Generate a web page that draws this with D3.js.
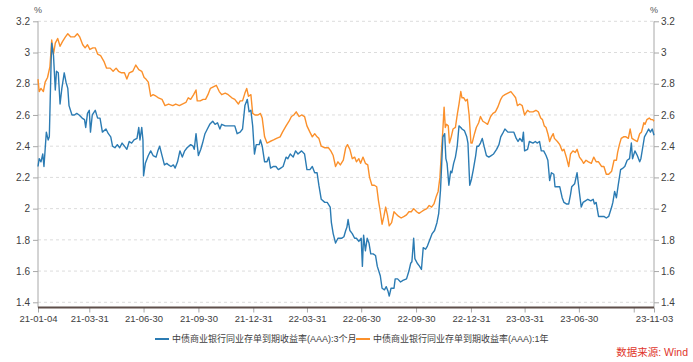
<!DOCTYPE html>
<html>
<head>
<meta charset="utf-8">
<script src="https://cdn.jsdelivr.net/npm/d3@7"></script>
<style>
  body { margin: 0; background: #fff; }
  svg { display: block; }
  text { font-family: "Liberation Sans", "Noto Sans CJK SC", sans-serif; }
</style>
</head>
<body>
<svg id="chart" width="693" height="362"></svg>
<script>
// 3-month NCD yield (AAA)
const dates3m = [
  '2021-01-04','2021-01-06','2021-01-09','2021-01-12','2021-01-14','2021-01-16','2021-01-18','2021-01-21','2021-01-23','2021-01-26',
  '2021-01-27','2021-01-30','2021-02-02','2021-02-04','2021-02-07','2021-02-10','2021-02-13','2021-02-17','2021-02-20','2021-02-23',
  '2021-02-25','2021-03-02','2021-03-06','2021-03-10','2021-03-14','2021-03-19','2021-03-23','2021-03-25','2021-03-28','2021-03-31',
  '2021-04-02','2021-04-05','2021-04-10','2021-04-14','2021-04-18','2021-04-22','2021-04-28','2021-05-02','2021-05-06','2021-05-09',
  '2021-05-13','2021-05-17','2021-05-21','2021-05-25','2021-05-29','2021-06-02','2021-06-06','2021-06-10','2021-06-14','2021-06-19',
  '2021-06-22','2021-06-24','2021-06-27','2021-06-29','2021-06-30','2021-07-03','2021-07-08','2021-07-12','2021-07-16','2021-07-21',
  '2021-07-24','2021-07-27','2021-07-31','2021-08-04','2021-08-08','2021-08-11','2021-08-15','2021-08-19','2021-08-22','2021-08-26',
  '2021-08-30','2021-09-03','2021-09-07','2021-09-11','2021-09-17','2021-09-21','2021-09-23','2021-09-26','2021-09-30','2021-10-04',
  '2021-10-07','2021-10-11','2021-10-15','2021-10-19','2021-10-24','2021-10-28','2021-11-01','2021-11-05','2021-11-08','2021-11-14',
  '2021-11-19','2021-11-25','2021-11-30','2021-12-04','2021-12-09','2021-12-13','2021-12-17','2021-12-21','2021-12-24','2021-12-27',
  '2021-12-30','2022-01-02','2022-01-05','2022-01-10','2022-01-12','2022-01-15','2022-01-19','2022-01-23','2022-01-26','2022-01-29',
  '2022-02-03','2022-02-07','2022-02-11','2022-02-15','2022-02-19','2022-02-24','2022-02-27','2022-03-03','2022-03-08','2022-03-12',
  '2022-03-16','2022-03-22','2022-03-27','2022-03-31','2022-04-05','2022-04-09','2022-04-13','2022-04-17','2022-04-20','2022-04-24',
  '2022-04-30','2022-05-04','2022-05-09','2022-05-11','2022-05-14','2022-05-18','2022-05-22','2022-05-28','2022-06-01','2022-06-04',
  '2022-06-06','2022-06-08','2022-06-11','2022-06-15','2022-06-19','2022-06-22','2022-06-26','2022-06-30','2022-07-02','2022-07-04',
  '2022-07-07','2022-07-10','2022-07-13','2022-07-16','2022-07-20','2022-07-24','2022-07-27','2022-08-01','2022-08-04','2022-08-08',
  '2022-08-11','2022-08-14','2022-08-16','2022-08-19','2022-08-24','2022-08-26','2022-08-30','2022-09-04','2022-09-08','2022-09-14',
  '2022-09-18','2022-09-21','2022-09-23','2022-09-26','2022-09-28','2022-10-02','2022-10-06','2022-10-09','2022-10-12','2022-10-16',
  '2022-10-19','2022-10-23','2022-10-27','2022-10-31','2022-11-04','2022-11-07','2022-11-10','2022-11-12','2022-11-14','2022-11-17',
  '2022-11-19','2022-11-21','2022-11-24','2022-11-27','2022-11-29','2022-12-02','2022-12-05','2022-12-08','2022-12-11','2022-12-14',
  '2022-12-16','2022-12-20','2022-12-24','2022-12-26','2022-12-29','2023-01-01','2023-01-04','2023-01-08','2023-01-10','2023-01-13',
  '2023-01-16','2023-01-19','2023-01-22','2023-01-26','2023-01-30','2023-02-03','2023-02-07','2023-02-12','2023-02-16','2023-02-19',
  '2023-02-22','2023-02-26','2023-03-03','2023-03-09','2023-03-13','2023-03-17','2023-03-20','2023-03-23','2023-03-27','2023-03-29',
  '2023-03-31','2023-04-05','2023-04-08','2023-04-14','2023-04-18','2023-04-21','2023-04-25','2023-04-28','2023-05-02','2023-05-06',
  '2023-05-09','2023-05-12','2023-05-15','2023-05-19','2023-05-21','2023-05-26','2023-05-29','2023-06-02','2023-06-05','2023-06-09',
  '2023-06-13','2023-06-16','2023-06-18','2023-06-23','2023-06-27','2023-07-01','2023-07-04','2023-07-07','2023-07-11','2023-07-15',
  '2023-07-20','2023-07-24','2023-07-26','2023-07-29','2023-08-02','2023-08-07','2023-08-11','2023-08-15','2023-08-19','2023-08-24',
  '2023-08-26','2023-08-29','2023-09-01','2023-09-04','2023-09-08','2023-09-12','2023-09-15','2023-09-19','2023-09-23','2023-09-26',
  '2023-09-28','2023-10-02','2023-10-06','2023-10-10','2023-10-12','2023-10-15','2023-10-18','2023-10-21','2023-10-25','2023-10-28',
  '2023-10-31','2023-11-03'
];
const rate3m = [
  2.27,2.32,2.30,2.35,2.27,2.38,2.49,2.44,2.46,2.94,
  3.06,2.98,2.76,2.88,2.87,2.67,2.77,2.87,2.81,2.77,
  2.66,2.60,2.60,2.61,2.60,2.58,2.57,2.52,2.61,2.63,
  2.49,2.60,2.63,2.58,2.58,2.49,2.51,2.48,2.46,2.40,
  2.39,2.41,2.39,2.42,2.40,2.38,2.43,2.42,2.44,2.45,
  2.52,2.44,2.52,2.44,2.21,2.29,2.34,2.37,2.34,2.33,
  2.37,2.40,2.34,2.28,2.29,2.28,2.27,2.28,2.26,2.30,
  2.37,2.33,2.37,2.39,2.41,2.40,2.38,2.48,2.34,2.38,
  2.42,2.48,2.51,2.54,2.56,2.54,2.55,2.51,2.54,2.53,
  2.53,2.53,2.53,2.48,2.49,2.51,2.66,2.70,2.62,2.63,
  2.53,2.35,2.41,2.41,2.44,2.40,2.30,2.30,2.33,2.26,
  2.27,2.27,2.25,2.26,2.27,2.33,2.32,2.35,2.33,2.37,
  2.35,2.37,2.35,2.25,2.25,2.27,2.23,2.23,2.15,2.06,
  2.04,2.04,2.01,1.91,1.84,1.78,1.81,1.81,1.82,1.86,
  1.88,1.93,1.86,1.84,1.81,1.81,1.79,1.81,1.63,1.83,
  1.73,1.81,1.78,1.71,1.71,1.70,1.63,1.57,1.49,1.48,
  1.50,1.47,1.44,1.49,1.49,1.55,1.55,1.53,1.54,1.55,
  1.60,1.65,1.66,1.81,1.68,1.65,1.63,1.61,1.75,1.74,
  1.76,1.80,1.84,1.86,1.91,1.97,2.12,2.29,2.46,2.48,
  2.32,2.29,2.15,2.24,2.23,2.29,2.33,2.40,2.53,2.52,
  2.51,2.50,2.46,2.42,2.15,2.19,2.25,2.34,2.40,2.40,
  2.42,2.45,2.40,2.34,2.33,2.34,2.35,2.38,2.41,2.46,
  2.48,2.51,2.49,2.49,2.49,2.45,2.43,2.45,2.43,2.49,
  2.37,2.38,2.43,2.42,2.43,2.42,2.43,2.37,2.37,2.34,
  2.31,2.18,2.23,2.22,2.14,2.14,2.14,2.07,2.04,2.03,
  2.03,2.09,2.14,2.16,2.23,2.10,2.01,2.04,2.05,2.06,
  2.05,2.06,2.03,2.04,1.95,1.95,1.95,1.94,1.95,2.01,
  2.04,2.11,2.07,2.15,2.25,2.26,2.27,2.31,2.32,2.42,
  2.32,2.37,2.34,2.30,2.32,2.39,2.46,2.48,2.51,2.49,
  2.51,2.47
];

// 1-year NCD yield (AAA)
const dates1y = [
  '2021-01-04','2021-01-06','2021-01-09','2021-01-13','2021-01-16','2021-01-20','2021-01-24','2021-01-27','2021-01-30','2021-02-02',
  '2021-02-06','2021-02-10','2021-02-14','2021-02-19','2021-02-23','2021-02-28','2021-03-06','2021-03-11','2021-03-15','2021-03-20',
  '2021-03-24','2021-03-28','2021-04-01','2021-04-06','2021-04-10','2021-04-14','2021-04-19','2021-04-25','2021-04-29','2021-05-05',
  '2021-05-10','2021-05-15','2021-05-19','2021-05-24','2021-05-29','2021-06-02','2021-06-06','2021-06-12','2021-06-17','2021-06-22',
  '2021-06-27','2021-07-01','2021-07-04','2021-07-08','2021-07-12','2021-07-16','2021-07-21','2021-07-25','2021-07-31','2021-08-05',
  '2021-08-11','2021-08-18','2021-08-23','2021-08-29','2021-09-03','2021-09-09','2021-09-13','2021-09-17','2021-09-22','2021-09-26',
  '2021-09-28','2021-10-03','2021-10-08','2021-10-12','2021-10-16','2021-10-20','2021-10-25','2021-10-30','2021-11-04','2021-11-08',
  '2021-11-14','2021-11-19','2021-11-25','2021-11-30','2021-12-06','2021-12-09','2021-12-13','2021-12-17','2021-12-20','2021-12-23',
  '2021-12-27','2021-12-30','2022-01-03','2022-01-08','2022-01-12','2022-01-15','2022-01-19','2022-01-23','2022-01-28','2022-02-03',
  '2022-02-08','2022-02-14','2022-02-18','2022-02-24','2022-03-01','2022-03-05','2022-03-09','2022-03-13','2022-03-18','2022-03-22',
  '2022-03-27','2022-03-31','2022-04-05','2022-04-09','2022-04-13','2022-04-17','2022-04-20','2022-04-24','2022-04-30','2022-05-06',
  '2022-05-10','2022-05-14','2022-05-18','2022-05-22','2022-05-26','2022-05-31','2022-06-04','2022-06-07','2022-06-11','2022-06-15',
  '2022-06-19','2022-06-22','2022-06-26','2022-06-29','2022-07-03','2022-07-07','2022-07-11','2022-07-14','2022-07-18','2022-07-22',
  '2022-07-26','2022-07-29','2022-08-01','2022-08-04','2022-08-07','2022-08-10','2022-08-13','2022-08-16','2022-08-20','2022-08-24',
  '2022-08-29','2022-09-01','2022-09-05','2022-09-10','2022-09-14','2022-09-18','2022-09-22','2022-09-26','2022-10-01','2022-10-05',
  '2022-10-09','2022-10-13','2022-10-18','2022-10-22','2022-10-26','2022-10-30','2022-11-03','2022-11-06','2022-11-09','2022-11-11',
  '2022-11-14','2022-11-16','2022-11-18','2022-11-20','2022-11-23','2022-11-25','2022-11-28','2022-12-01','2022-12-05','2022-12-08',
  '2022-12-11','2022-12-14','2022-12-16','2022-12-19','2022-12-22','2022-12-25','2022-12-28','2022-12-31','2023-01-02','2023-01-06',
  '2023-01-09','2023-01-13','2023-01-16','2023-01-20','2023-01-24','2023-01-28','2023-02-02','2023-02-06','2023-02-10','2023-02-14',
  '2023-02-19','2023-02-22','2023-02-26','2023-03-03','2023-03-08','2023-03-12','2023-03-16','2023-03-19','2023-03-23','2023-03-27',
  '2023-03-31','2023-04-05','2023-04-08','2023-04-14','2023-04-19','2023-04-23','2023-04-27','2023-04-30','2023-05-03','2023-05-06',
  '2023-05-09','2023-05-12','2023-05-15','2023-05-18','2023-05-20','2023-05-25','2023-05-29','2023-06-02','2023-06-05','2023-06-09',
  '2023-06-13','2023-06-16','2023-06-20','2023-06-24','2023-06-27','2023-07-01','2023-07-05','2023-07-08','2023-07-12','2023-07-16',
  '2023-07-21','2023-07-25','2023-07-29','2023-08-02','2023-08-07','2023-08-11','2023-08-15','2023-08-19','2023-08-24','2023-08-28',
  '2023-09-01','2023-09-03','2023-09-06','2023-09-09','2023-09-13','2023-09-17','2023-09-21','2023-09-24','2023-09-27','2023-10-01',
  '2023-10-06','2023-10-10','2023-10-13','2023-10-17','2023-10-19','2023-10-22','2023-10-26','2023-10-29','2023-11-01','2023-11-03'
];
const rate1y = [
  2.83,2.75,2.77,2.75,2.81,2.84,2.91,3.08,2.99,3.06,
  3.09,3.04,3.07,3.10,3.12,3.10,3.10,3.12,3.10,3.05,
  3.03,3.05,3.02,3.03,3.03,2.99,2.98,2.94,2.90,2.90,
  2.88,2.90,2.88,2.87,2.87,2.83,2.87,2.88,2.92,2.89,
  2.88,2.84,2.83,2.81,2.72,2.73,2.72,2.71,2.70,2.66,
  2.67,2.66,2.67,2.66,2.67,2.68,2.71,2.70,2.73,2.76,
  2.69,2.69,2.70,2.70,2.73,2.77,2.78,2.79,2.75,2.73,
  2.74,2.73,2.71,2.70,2.67,2.69,2.69,2.74,2.77,2.72,
  2.73,2.61,2.60,2.60,2.61,2.58,2.46,2.42,2.43,2.44,
  2.45,2.46,2.49,2.53,2.56,2.59,2.60,2.62,2.59,2.60,
  2.59,2.53,2.49,2.46,2.48,2.46,2.45,2.40,2.39,2.39,
  2.37,2.34,2.27,2.30,2.28,2.31,2.39,2.41,2.38,2.32,
  2.33,2.30,2.32,2.29,2.33,2.29,2.28,2.20,2.15,2.15,
  2.14,2.05,1.98,1.90,1.95,2.01,1.96,1.89,1.91,1.98,
  1.96,1.95,1.94,1.95,1.96,1.98,1.98,2.00,1.98,1.97,
  1.98,1.99,2.00,2.02,2.01,2.03,2.08,2.11,2.20,2.33,
  2.51,2.65,2.52,2.54,2.53,2.42,2.46,2.51,2.52,2.60,
  2.67,2.75,2.71,2.71,2.69,2.70,2.60,2.42,2.42,2.48,
  2.52,2.55,2.59,2.56,2.55,2.54,2.59,2.61,2.62,2.65,
  2.70,2.72,2.73,2.74,2.75,2.73,2.71,2.66,2.67,2.66,
  2.60,2.63,2.62,2.62,2.63,2.62,2.58,2.57,2.53,2.52,
  2.48,2.43,2.46,2.48,2.45,2.43,2.41,2.37,2.38,2.33,
  2.27,2.35,2.37,2.36,2.38,2.33,2.31,2.29,2.31,2.30,
  2.29,2.33,2.30,2.30,2.27,2.27,2.22,2.22,2.24,2.31,
  2.31,2.36,2.41,2.45,2.46,2.46,2.45,2.51,2.45,2.44,
  2.43,2.48,2.49,2.55,2.54,2.57,2.58,2.57,2.57,2.56
];

const yTicks = [1.4, 1.6, 1.8, 2.0, 2.2, 2.4, 2.6, 2.8, 3.0, 3.2];
const xTickDates = ['2021-01-04','2021-03-31','2021-06-30','2021-09-30','2021-12-31','2022-03-31',
                    '2022-06-30','2022-09-30','2022-12-31','2023-03-31','2023-06-30','2023-09-30','2023-11-03'];
const hiddenTickLabels = ['2023-09-30'];
const seriesNames = ['中债商业银行同业存单到期收益率(AAA):3个月', '中债商业银行同业存单到期收益率(AAA):1年'];
const sourceNote = '数据来源: Wind';

const parse = d3.timeParse('%Y-%m-%d');
const fmt = d3.timeFormat('%y-%m-%d');
const isoFmt = d3.timeFormat('%Y-%m-%d');
const blue = '#2b7bb3';
const orange = '#fb902b';

const svg = d3.select('#chart');
const plotLeft = 38, plotRight = 654, plotTop = 21.3, plotBottom = 302.3, baseY = 307.5;

const x = d3.scaleTime()
  .domain([parse('2021-01-04'), parse('2023-11-03')])
  .range([plotLeft, plotRight]);
const y = d3.scaleLinear().domain([1.4, 3.2]).range([plotBottom, plotTop]);

// Gridlines
svg.append('g')
  .selectAll('line')
  .data(yTicks)
  .join('line')
  .attr('x1', plotLeft).attr('x2', plotRight)
  .attr('y1', d => y(d)).attr('y2', d => y(d))
  .attr('stroke', '#dcdcdc')
  .attr('stroke-dasharray', '3,3');

// Left / right axes
const yFmt = d3.format('~g');
const leftAxis = svg.append('g')
  .attr('transform', `translate(${plotLeft},0)`)
  .call(d3.axisLeft(y).tickValues(yTicks).tickFormat(yFmt).tickSize(5).tickPadding(3));
const rightAxis = svg.append('g')
  .attr('transform', `translate(${plotRight},0)`)
  .call(d3.axisRight(y).tickValues(yTicks).tickFormat(yFmt).tickSize(5).tickPadding(2));
[leftAxis, rightAxis].forEach(a => {
  a.select('.domain').attr('d', `M0,${plotTop}V${baseY}`).attr('stroke', '#a8a8a8');
  a.selectAll('.tick line').attr('stroke', '#a8a8a8');
  a.selectAll('.tick text').attr('fill', '#404040').attr('font-size', 10);
});

// Unit labels
svg.append('text').attr('x', plotLeft).attr('y', 13).attr('text-anchor', 'middle')
  .attr('font-size', 9).attr('fill', '#555').text('%');
svg.append('text').attr('x', plotRight).attr('y', 13).attr('text-anchor', 'middle')
  .attr('font-size', 9).attr('fill', '#555').text('%');

// Bottom axis
const xAxis = svg.append('g')
  .attr('transform', `translate(0,${baseY})`)
  .call(d3.axisBottom(x)
    .tickValues(xTickDates.map(parse))
    .tickFormat(d => hiddenTickLabels.includes(isoFmt(d)) ? '' : fmt(d))
    .tickSize(5).tickPadding(3));
xAxis.select('.domain').remove();
xAxis.selectAll('.tick line').attr('stroke', '#a8a8a8');
xAxis.selectAll('.tick text').attr('fill', '#404040').attr('font-size', 9.5);
svg.append('line')
  .attr('x1', plotLeft).attr('x2', plotRight).attr('y1', baseY).attr('y2', baseY)
  .attr('stroke', '#5e4f4a').attr('stroke-width', 2);

// Lines
const line = d3.line().x(d => x(d[0])).y(d => y(d[1]));
const s3m = dates3m.map((d, i) => [parse(d), rate3m[i]]);
const s1y = dates1y.map((d, i) => [parse(d), rate1y[i]]);

svg.append('path').datum(s1y)
  .attr('fill', 'none').attr('stroke', orange).attr('stroke-width', 1.4)
  .attr('stroke-linejoin', 'round').attr('d', line);
svg.append('path').datum(s3m)
  .attr('fill', 'none').attr('stroke', blue).attr('stroke-width', 1.4)
  .attr('stroke-linejoin', 'round').attr('d', line);

// Legend
const legendItems = [
  { name: seriesNames[0], color: blue, x: 155 },
  { name: seriesNames[1], color: orange, x: 356 }
];
const lg = svg.append('g').selectAll('g').data(legendItems).join('g')
  .attr('transform', d => `translate(${d.x},339)`);
lg.append('line').attr('x1', 0).attr('x2', 14).attr('stroke', d => d.color).attr('stroke-width', 2);
lg.append('text').attr('x', 17).attr('dy', '0.35em').attr('font-size', 9)
  .attr('fill', '#404040').text(d => d.name);

svg.append('text').attr('x', 688).attr('y', 356).attr('text-anchor', 'end')
  .attr('font-size', 10.5).attr('fill', '#e0362c').text(sourceNote);
</script>
</body>
</html>
